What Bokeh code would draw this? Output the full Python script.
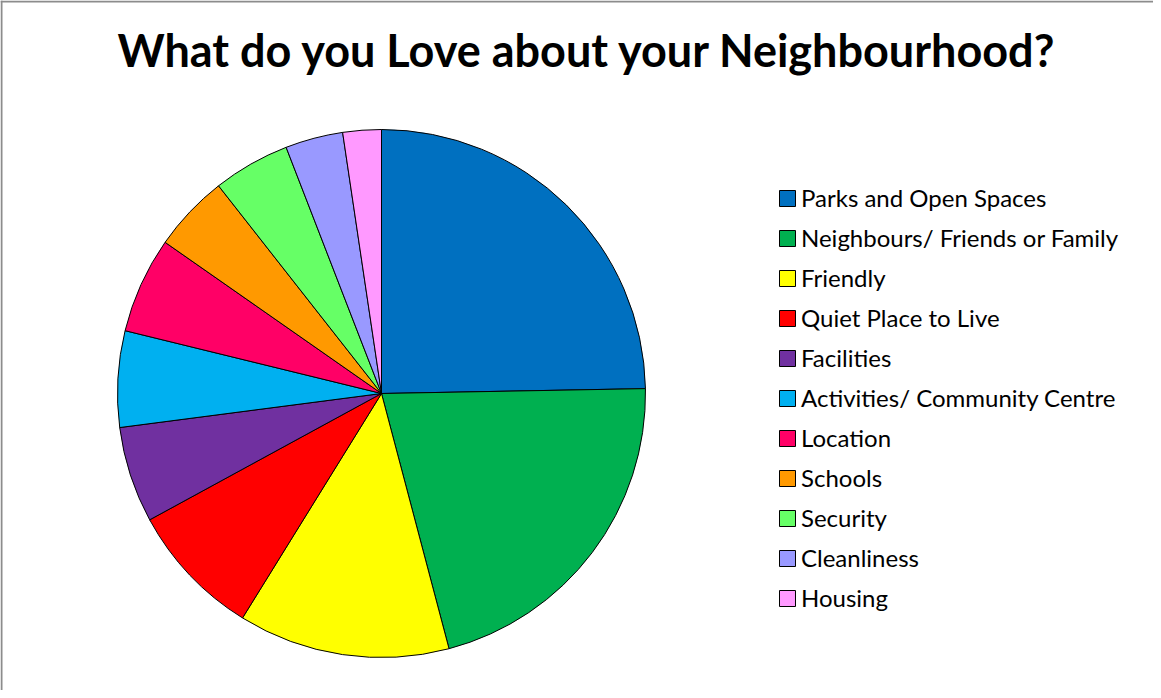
import math
from bokeh.plotting import figure
from bokeh.models import ColumnDataSource, Range1d, Legend, Span
from bokeh.core.properties import value
from bokeh.embed import file_html
from bokeh.resources import INLINE

categories = ["Parks and Open Spaces", "Neighbours/ Friends or Family", "Friendly",
              "Quiet Place to Live", "Facilities", "Activities/ Community Centre",
              "Location", "Schools", "Security", "Cleanliness", "Housing"]
counts = [21, 18, 11, 7, 5, 5, 5, 4, 4, 3, 2]
colors = ["#0070C0", "#00B050", "#FFFF00", "#FF0000", "#7030A0", "#00B0F0",
          "#FF0066", "#FF9900", "#66FF66", "#9999FF", "#FF99FF"]
title_text = "What do you Love about your Neighbourhood?"

W, H = 1153, 690
total = sum(counts)
starts, ends = [], []
cum = 0
for c in counts:
    a0 = math.pi / 2 - 2 * math.pi * (cum + c) / total
    a1 = math.pi / 2 - 2 * math.pi * cum / total
    starts.append(a0)
    ends.append(a1)
    cum += c

src = ColumnDataSource(dict(label=categories, count=counts, color=colors,
                            start=starts, end=ends))

p = figure(width=W, height=H, output_backend="svg", toolbar_location=None,
           x_range=Range1d(0, W), y_range=Range1d(0, H), min_border=0)
p.axis.visible = False
p.grid.visible = False
p.outline_line_color = None
p.background_fill_color = "white"
p.border_fill_color = "white"

cx, cy, r = 381, H - 393, 264
p.wedge(x=cx, y=cy, radius=r, start_angle="start", end_angle="end",
        direction="anticlock", fill_color="color", line_color="black",
        line_width=1, source=src, legend_field="label")

p.text(x=[587], y=[H - 49], text=[title_text], text_font=value("Lato"),
       text_font_style="bold", text_font_size="45px", text_align="center",
       text_baseline="middle", text_color="black")

p.add_layout(Span(location=1, dimension="height", line_color="#8c8c8c", line_width=2))
p.add_layout(Span(location=H - 1, dimension="width", line_color="#8c8c8c", line_width=2))

leg = p.legend[0]
leg.location = (777, 78)
leg.border_line_color = None
leg.background_fill_alpha = 0
leg.glyph_width = 20
leg.glyph_height = 20
leg.label_height = 20
leg.spacing = 11
leg.padding = 0
leg.margin = 0
leg.label_standoff = 4
leg.label_text_font = "Lato"
leg.label_text_font_size = "24px"
leg.label_text_color = "black"

open("out.html", "w").write(file_html(p, INLINE))
